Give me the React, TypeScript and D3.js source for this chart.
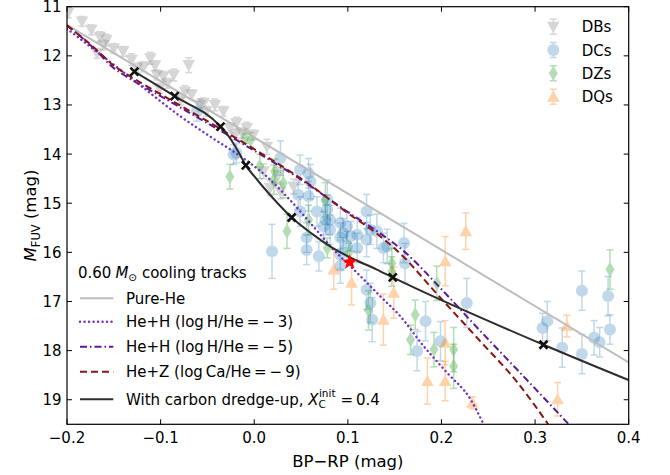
import React from 'react';
import * as d3 from 'd3';

const W = 670;
const H = 475;

const xTicks = [-0.2, -0.1, 0.0, 0.1, 0.2, 0.3, 0.4];
const yTicks = [11, 12, 13, 14, 15, 16, 17, 18, 19];

// observed samples: [BP-RP, M_FUV, error]
const dbs: [number, number, number][] = [
  [-0.199, 11.13, 0.1], [-0.184, 11.3, 0.1], [-0.174, 11.47, 0.1], [-0.165, 11.61, 0.1],
  [-0.158, 11.68, 0.12], [-0.161, 11.78, 0.1], [-0.15, 11.85, 0.1], [-0.14, 11.91, 0.1],
  [-0.168, 11.95, 0.1], [-0.131, 12.08, 0.12], [-0.111, 12.05, 0.12], [-0.118, 12.22, 0.1],
  [-0.125, 12.25, 0.1], [-0.07, 12.19, 0.15], [-0.104, 12.39, 0.1], [-0.097, 12.42, 0.1],
  [-0.086, 12.39, 0.12], [-0.093, 12.56, 0.1], [-0.101, 12.66, 0.1], [-0.074, 12.73, 0.12],
  [-0.067, 12.79, 0.1], [-0.079, 12.9, 0.1], [-0.058, 13.0, 0.12], [-0.042, 13.0, 0.12],
  [-0.033, 13.13, 0.1], [-0.051, 13.13, 0.1], [-0.019, 13.37, 0.12], [-0.026, 13.47, 0.1],
  [-0.008, 13.47, 0.12], [-0.02, 13.61, 0.1], [-0.001, 13.61, 0.1], [-0.013, 13.57, 0.1],
  [0.0135, 13.85, 0.15], [0.01, 14.35, 0.15], [0.026, 14.42, 0.15], [0.028, 14.76, 0.15],
  [0.042, 14.66, 0.15], [0.017, 14.69, 0.15], [-0.054, 12.96, 0.1], [-0.106, 12.2, 0.1],
];

const dcs: [number, number, number][] = [
  [-0.061, 13.13, 0.2], [-0.022, 14.01, 0.2], [-0.019, 13.98, 0.2], [0.028, 14.08, 0.35],
  [0.049, 14.32, 0.3], [0.058, 14.39, 0.3], [0.06, 14.56, 0.35], [0.047, 14.83, 0.3],
  [0.058, 14.86, 0.3], [0.078, 14.93, 0.4], [0.067, 15.17, 0.3], [0.078, 15.13, 0.3],
  [0.049, 15.17, 0.3], [0.081, 15.34, 0.3], [0.076, 15.34, 0.3], [0.092, 15.4, 0.3],
  [0.099, 15.47, 0.3], [0.095, 15.61, 0.3], [0.103, 15.67, 0.3], [0.11, 15.64, 0.35],
  [0.092, 15.7, 0.3], [0.12, 15.74, 0.35], [0.11, 15.91, 0.3], [0.099, 15.88, 0.3],
  [0.056, 15.7, 0.3], [0.056, 15.95, 0.3], [0.069, 16.08, 0.3], [0.019, 15.98, 0.55],
  [0.131, 15.57, 0.35], [0.124, 15.54, 0.3], [0.12, 15.17, 0.35], [0.16, 15.81, 0.4],
  [0.142, 15.88, 0.35], [0.092, 16.05, 0.3], [0.081, 15.54, 0.3], [0.074, 15.47, 0.3],
  [0.092, 16.28, 0.35], [0.12, 16.76, 0.4], [0.124, 17.03, 0.4], [0.126, 17.37, 0.45],
  [0.183, 17.4, 0.4], [0.199, 17.81, 0.4], [0.174, 18.01, 0.4], [0.227, 17.03, 0.5],
  [0.138, 15.91, 0.3], [0.161, 16.22, 0.4], [0.308, 17.54, 0.3], [0.313, 17.4, 0.4],
  [0.329, 17.94, 0.4], [0.35, 16.78, 0.4], [0.35, 18.07, 0.4], [0.363, 17.74, 0.35],
  [0.369, 17.83, 0.3], [0.378, 16.89, 0.4], [0.38, 17.57, 0.3],
];

const dzs: [number, number, number][] = [
  [-0.004, 13.71, 0.15], [-0.01, 13.68, 0.1], [0.006, 14.25, 0.25], [0.021, 14.52, 0.3],
  [0.031, 14.59, 0.3], [0.022, 14.35, 0.25], [-0.026, 14.46, 0.25], [0.035, 15.57, 0.35],
  [0.058, 15.34, 0.3], [0.076, 14.93, 0.35], [0.078, 15.91, 0.2], [0.101, 16.01, 0.2],
  [0.147, 16.22, 0.3], [0.147, 16.39, 0.3], [0.122, 17.18, 0.4], [0.172, 17.27, 0.3],
  [0.195, 16.63, 0.35], [0.167, 17.78, 0.3], [0.192, 17.98, 0.35], [0.213, 17.98, 0.45],
  [0.213, 18.32, 0.45], [0.38, 16.35, 0.4],
];

const dqs: [number, number, number][] = [
  [0.085, 16.35, 0.4], [0.104, 16.62, 0.45], [0.138, 17.37, 0.52], [0.149, 16.82, 0.52],
  [0.204, 16.18, 0.5], [0.204, 17.84, 0.45], [0.185, 18.62, 0.47], [0.204, 18.62, 0.4],
  [0.233, 19.06, 0.12], [0.226, 15.57, 0.37], [0.334, 17.5, 0.22], [0.324, 18.99, 0.34],
];

// cooling tracks
const pureHeX = [-0.2, 0.0, 0.2, 0.4];
const pureHeM = [11.37, 13.66, 15.95, 18.24];
const hh3X = [-0.2, -0.129, -0.079, -0.04, -0.022, 0.0135, 0.038, 0.063, 0.085, 0.11, 0.135, 0.156, 0.181, 0.206, 0.231, 0.245];
const hh3M = [11.45, 12.49, 13.23, 13.73, 13.95, 14.46, 14.93, 15.47, 15.95, 16.42, 16.9, 17.3, 17.91, 18.45, 18.99, 19.5];
const hh5X = [-0.2, -0.17, -0.15, -0.14, -0.1, -0.05, 0.0, 0.05, 0.1, 0.135, 0.16, 0.2, 0.24, 0.28, 0.336];
const hh5M = [11.38, 11.87, 12.25, 12.38, 12.82, 13.37, 13.93, 14.52, 15.18, 15.62, 15.98, 16.75, 17.57, 18.37, 19.5];
const hezX = [-0.2, -0.17, -0.15, -0.14, -0.1, -0.05, 0.0, 0.05, 0.1, 0.135, 0.16, 0.192, 0.24, 0.28, 0.314];
const hezM = [11.38, 11.85, 12.2, 12.33, 12.78, 13.33, 13.9, 14.5, 15.2, 15.68, 16.1, 16.78, 17.78, 18.62, 19.5];
const carbonX = [-0.128, -0.085, -0.036, -0.028, -0.021, -0.015, -0.009, 0.0, 0.01, 0.025, 0.04, 0.063, 0.081, 0.102, 0.131, 0.148, 0.309, 0.4];
const carbonM = [12.32, 12.82, 13.44, 13.62, 13.82, 14.02, 14.23, 14.45, 14.68, 15.0, 15.29, 15.64, 15.88, 16.1, 16.35, 16.51, 17.88, 18.6];
const stepX = [-0.128, -0.085, -0.036, -0.009, 0.04, 0.148, 0.309];
const stepM = [12.32, 12.82, 13.44, 14.23, 15.29, 16.51, 17.88];
const starPt = [0.102, 16.2];

const FONT = 'DejaVu Sans, sans-serif';
const left = 67, right = 628.7, top = 6.7, bottom = 424.3;

const x = d3.scaleLinear().domain([-0.2, 0.4]).range([left, right]);
const y = d3.scaleLinear().domain([11, 19.5]).range([top, bottom]);

const curve = (xs: number[], ms: number[]) =>
  d3.line<number>().x((_, i) => x(xs[i])).y((_, i) => y(ms[i])).curve(d3.curveMonotoneX)(xs.map((_, i) => i)) || '';

const triDown = (cx: number, cy: number, s: number) =>
  `M${cx - s},${cy - s * 0.8}L${cx + s},${cy - s * 0.8}L${cx},${cy + s}Z`;
const triUp = (cx: number, cy: number, s: number) =>
  `M${cx - s},${cy + s * 0.8}L${cx + s},${cy + s * 0.8}L${cx},${cy - s}Z`;
const diamond = (cx: number, cy: number, s: number) =>
  `M${cx},${cy - s}L${cx + s * 0.6},${cy}L${cx},${cy + s}L${cx - s * 0.6},${cy}Z`;
const cross = (cx: number, cy: number, s: number) =>
  `M${cx - s},${cy - s}L${cx + s},${cy + s}M${cx - s},${cy + s}L${cx + s},${cy - s}`;
const starPath = (cx: number, cy: number, r: number) => {
  const pts: string[] = [];
  for (let i = 0; i < 10; i++) {
    const a = -Math.PI / 2 + (i * Math.PI) / 5;
    const rr = i % 2 === 0 ? r : r * 0.42;
    pts.push(`${cx + rr * Math.cos(a)},${cy + rr * Math.sin(a)}`);
  }
  return `M${pts.join('L')}Z`;
};

type Kind = 'db' | 'dc' | 'dz' | 'dq';
const styles: Record<Kind, { color: string; alpha: number }> = {
  db: { color: '#8c8c8c', alpha: 0.35 },
  dc: { color: '#1f77b4', alpha: 0.28 },
  dz: { color: '#2ca02c', alpha: 0.35 },
  dq: { color: '#ff7f0e', alpha: 0.35 },
};

const Marker = ({ kind, cx, cy }: { kind: Kind; cx: number; cy: number }) => {
  const c = styles[kind].color;
  if (kind === 'db') return <path d={triDown(cx, cy, 6.3)} fill={c} />;
  if (kind === 'dc') return <circle cx={cx} cy={cy} r={6} fill={c} />;
  if (kind === 'dz') return <path d={diamond(cx, cy, 7.5)} fill={c} />;
  return <path d={triUp(cx, cy, 6.3)} fill={c} />;
};

const ErrPoint = ({ kind, cx, cy, e0, e1 }: { kind: Kind; cx: number; cy: number; e0: number; e1: number }) => {
  const { color, alpha } = styles[kind];
  return (
    <g opacity={alpha}>
      <g stroke={color} strokeWidth={1.5}>
        <line x1={cx} x2={cx} y1={e0} y2={e1} />
        <line x1={cx - 3.5} x2={cx + 3.5} y1={e0} y2={e0} />
        <line x1={cx - 3.5} x2={cx + 3.5} y1={e1} y2={e1} />
      </g>
      <Marker kind={kind} cx={cx} cy={cy} />
    </g>
  );
};

const sampleSets: [Kind, [number, number, number][]][] = [
  ['db', dbs], ['dc', dcs], ['dz', dzs], ['dq', dqs],
];

const tracks = [
  { label: 'Pure-He', xs: pureHeX, ms: pureHeM, color: '#bdbdbd', dash: undefined, cap: 'butt', w: 2 },
  { label: 'He+H (log\u2009H/He\u2009=\u2009\u2212\u20093)', xs: hh3X, ms: hh3M, color: '#7030c8', dash: '0.1 4.4', cap: 'round', w: 2.4 },
  { label: 'He+H (log\u2009H/He\u2009=\u2009\u2212\u20095)', xs: hh5X, ms: hh5M, color: '#5b1a9e', dash: '7 3 1.5 3', cap: 'butt', w: 2 },
  { label: 'He+Z (log\u2009Ca/He\u2009=\u2009\u2212\u20099)', xs: hezX, ms: hezM, color: '#8b1515', dash: '7 4', cap: 'butt', w: 2 },
  { label: '', xs: carbonX, ms: carbonM, color: '#2e2e2e', dash: undefined, cap: 'butt', w: 2 },
];

const legendRows = [298.3, 321.7, 346.7, 371.7, 399.3];
const markerRows = [26.7, 50, 73.3, 96.7];
const markerNames = ['DBs', 'DCs', 'DZs', 'DQs'];
const markerKinds: Kind[] = ['db', 'dc', 'dz', 'dq'];

export default function App() {
  return (
    <svg width={W} height={H} style={{ position: 'absolute', left: 0, top: 0, background: '#fff' }} fontFamily={FONT}>
      <defs>
        <clipPath id="plot">
          <rect x={left} y={top} width={right - left} height={bottom - top} />
        </clipPath>
      </defs>

      <g clipPath="url(#plot)">
        {sampleSets.map(([kind, pts]) =>
          pts.map((p, i) => (
            <ErrPoint key={kind + i} kind={kind} cx={x(p[0])} cy={y(p[1])} e0={y(p[1] - p[2])} e1={y(p[1] + p[2])} />
          ))
        )}
        {tracks.map((t, i) => (
          <path key={i} d={curve(t.xs, t.ms)} fill="none" stroke={t.color} strokeWidth={t.w}
            strokeDasharray={t.dash} strokeLinecap={t.cap as any} />
        ))}
        {stepX.map((v, i) => (
          <path key={i} d={cross(x(v), y(stepM[i]), 4)} stroke="#111" strokeWidth={2.6} />
        ))}
        <path d={starPath(x(starPt[0]), y(starPt[1]), 8)} fill="#ff0000" />
      </g>

      {/* frame and ticks */}
      <rect x={left} y={top} width={right - left} height={bottom - top} fill="none" stroke="#000" strokeWidth={1.2} />
      {xTicks.map((t) => (
        <g key={t}>
          <line x1={x(t)} x2={x(t)} y1={bottom} y2={bottom - 5} stroke="#000" />
          <line x1={x(t)} x2={x(t)} y1={top} y2={top + 5} stroke="#000" />
          <text x={x(t)} y={442.5} fontSize={15} textAnchor="middle">{d3.format('.1f')(t).replace('-', '\u2212')}</text>
        </g>
      ))}
      {yTicks.map((t) => (
        <g key={t}>
          <line x1={left} x2={left + 5} y1={y(t)} y2={y(t)} stroke="#000" />
          <line x1={right} x2={right - 5} y1={y(t)} y2={y(t)} stroke="#000" />
          <text x={61.5} y={y(t) + 5.5} fontSize={15} textAnchor="end">{t}</text>
        </g>
      ))}

      <text x={(left + right) / 2} y={467} fontSize={16.5} textAnchor="middle">BP{'\u2212'}RP (mag)</text>
      <text transform={`translate(36,${(top + bottom) / 2}) rotate(-90)`} fontSize={16.5} textAnchor="middle">
        <tspan fontStyle="italic">M</tspan>
        <tspan fontSize={11.5} dy={4}>FUV</tspan>
        <tspan dy={-4}> (mag)</tspan>
      </text>

      {/* marker legend */}
      {markerKinds.map((k, i) => (
        <g key={k}>
          <ErrPoint kind={k} cx={553.3} cy={markerRows[i]} e0={markerRows[i] - 7.5} e1={markerRows[i] + 7.5} />
          <text x={581.7} y={markerRows[i] + 5.5} fontSize={15}>{markerNames[i]}</text>
        </g>
      ))}

      {/* track legend */}
      <text x={78} y={278} fontSize={15}>
        0.60<tspan dx={4} fontStyle="italic">M</tspan>
        <tspan fontSize={10.5} dy={3}>{'\u2299'}</tspan>
        <tspan dy={-3}> cooling tracks</tspan>
      </text>
      {tracks.map((t, i) => (
        <g key={i}>
          <line x1={80} x2={113.3} y1={legendRows[i]} y2={legendRows[i]} stroke={t.color} strokeWidth={t.w}
            strokeDasharray={t.dash} strokeLinecap={t.cap as any} />
          {i < 4 ? (
            <text x={126} y={legendRows[i] + 5.5} fontSize={15}>{t.label}</text>
          ) : (
            <text x={126} y={legendRows[i] + 5.5} fontSize={15}>
              With carbon dredge-up,{' '}
              <tspan fontStyle="italic">X</tspan>
              <tspan fontSize={10.5} dy={3}>C</tspan>
              <tspan fontSize={10.5} dx={-7} dy={-11}>init</tspan>
              <tspan dy={8} dx={2}>{'\u2009=\u20090.4'}</tspan>
            </text>
          )}
        </g>
      ))}
    </svg>
  );
}
